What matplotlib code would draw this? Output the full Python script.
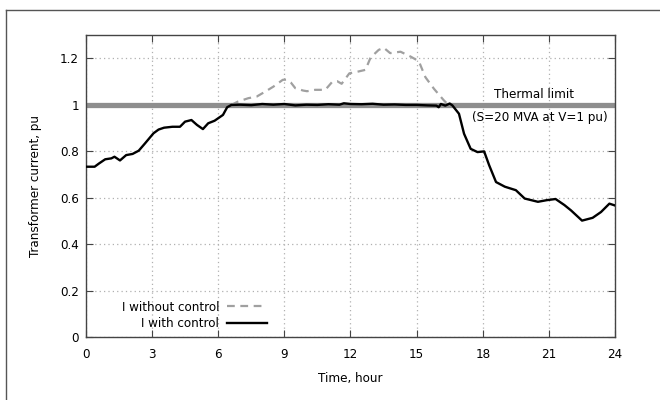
import matplotlib
matplotlib.use("Agg")
import matplotlib.pyplot as plt
from matplotlib import font_manager
from matplotlib.lines import Line2D
import glob

# try to get a condensed DejaVu if the system has it
for f in glob.glob("/usr/share/fonts/**/DejaVuSansCondensed.ttf", recursive=True):
    font_manager.fontManager.addfont(f)
plt.rcParams["font.family"] = ["DejaVu Sans"]
plt.rcParams["font.stretch"] = "condensed"
plt.rcParams["font.size"] = 9.5

# -----------------------------
# Data
# -----------------------------
t_ctrl = [0, 0.4, 0.6, 0.88, 1.16, 1.3, 1.55, 1.83, 2.12, 2.4,
          2.69, 3.07, 3.3, 3.55, 3.93, 4.27, 4.5, 4.79, 5.04, 5.31,
          5.55, 5.84, 6.22, 6.41, 6.6, 7.0, 7.5, 8.0, 8.5, 9.0,
          9.5, 10.0, 10.5, 11.0, 11.5, 11.7, 12.0, 12.5, 13.0, 13.5,
          14.0, 14.5, 15.0, 15.5, 15.9, 16.0, 16.1, 16.3, 16.5, 16.62,
          16.92, 17.15, 17.45, 17.76, 18.06, 18.29, 18.6, 19.0, 19.5, 19.9,
          20.5, 20.9, 21.3, 21.7, 22.0, 22.5, 22.98, 23.36, 23.74, 24]
i_ctrl = [0.733, 0.733, 0.747, 0.765, 0.769, 0.776, 0.760, 0.783, 0.788, 0.802,
          0.834, 0.877, 0.893, 0.901, 0.905, 0.905, 0.927, 0.934, 0.913, 0.895,
          0.920, 0.931, 0.956, 0.989, 0.999, 1.0, 0.998, 1.003, 1.0, 1.003,
          0.997, 1.0, 0.999, 1.002, 1.0, 1.006, 1.003, 1.002, 1.004, 1.0,
          1.001, 0.999, 0.999, 0.997, 0.996, 0.989, 1.003, 0.996, 1.005, 0.997,
          0.961, 0.875, 0.81, 0.796, 0.799, 0.739, 0.667, 0.647, 0.632, 0.596,
          0.582, 0.589, 0.594, 0.568, 0.545, 0.501, 0.513, 0.538, 0.574, 0.566]

t_noctl = [6.6, 6.89, 7.37, 7.75, 8.13, 8.51, 8.93, 9.1, 9.3, 9.5,
           9.85, 10.03, 10.4, 10.86, 11.18, 11.4, 11.6, 11.95, 12.23, 12.68,
           12.9, 13.06, 13.28, 13.51, 13.8, 14.27, 14.73, 15.1, 15.4, 15.79,
           16.24, 16.47]
i_noctl = [0.999, 1.013, 1.028, 1.035, 1.056, 1.078, 1.107, 1.108, 1.095, 1.071,
           1.061, 1.058, 1.064, 1.064, 1.099, 1.101, 1.090, 1.135, 1.140, 1.150,
           1.20, 1.216, 1.236, 1.245, 1.222, 1.228, 1.207, 1.187, 1.118, 1.068,
           1.018, 0.997]

thermal_limit = 1.0
x_ticks = [0, 3, 6, 9, 12, 15, 18, 21, 24]
y_ticks = [0, 0.2, 0.4, 0.6, 0.8, 1.0, 1.2]
y_ticklabels = ["0", "0.2", "0.4", "0.6", "0.8", "1", "1.2"]

# -----------------------------
# Plotting
# -----------------------------
fig = plt.figure(figsize=(6.6, 4), dpi=100)
ax = fig.add_axes([0.130, 0.1575, 0.802, 0.755])

# outer frame: only its left and top edges show in the original
fx, fy = 6.5 / 660, 1 - 9.5 / 400
fig.add_artist(Line2D([fx, fx], [0, fy], transform=fig.transFigure,
                      color="#555555", lw=1.0))
fig.add_artist(Line2D([fx, 1], [fy, fy], transform=fig.transFigure,
                      color="#555555", lw=1.0))

ax.axhline(thermal_limit, color="#8e8e8e", lw=3.8, zorder=2)
ax.plot(t_noctl, i_noctl, color="#a0a0a0", lw=1.6, ls=(0, (3.5, 2.5)),
        label="I without control", zorder=3)
ax.plot(t_ctrl, i_ctrl, color="black", lw=1.7, label="I with control", zorder=4)

ax.text(20.3, 1.044, "Thermal limit", ha="center", va="center")
ax.text(20.6, 0.946, "(S=20 MVA at V=1 pu)", ha="center", va="center")

ax.set_xlim(0, 24)
ax.set_ylim(0, 1.3)
ax.set_xticks(x_ticks)
ax.set_yticks(y_ticks)
ax.set_yticklabels(y_ticklabels)
ax.tick_params(direction="in", length=5, width=0.8, color="#444444",
               top=True, right=True, labelsize=9.5)
ax.tick_params(axis="x", pad=8)
ax.tick_params(axis="y", pad=5)
for s in ax.spines.values():
    s.set_color("#444444")
    s.set_linewidth(1.0)
ax.grid(True, color="#b0b0b0", ls=(0, (1, 2.5)), lw=0.9)

ax.set_xlabel("Time, hour", labelpad=8)
ax.set_ylabel("Transformer current, pu", labelpad=13)

ax.legend(loc="lower right", bbox_to_anchor=(0.342, 0.022), frameon=False,
          markerfirst=False, handlelength=3.0, handletextpad=0.6,
          labelspacing=0.25, borderpad=0, borderaxespad=0)

plt.savefig("out.png", dpi=100)
